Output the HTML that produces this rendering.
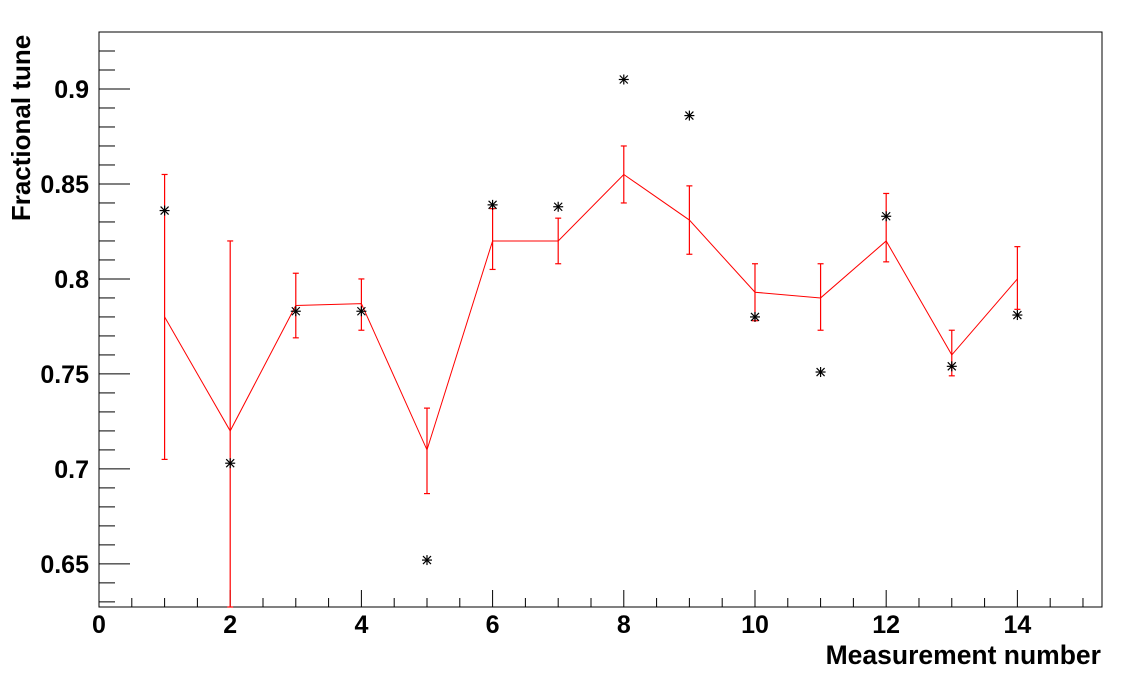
<!DOCTYPE html>
<html><head><meta charset="utf-8"><style>
body{margin:0;background:#fff;}
svg text{font-family:"Liberation Sans",Arial,sans-serif;font-weight:bold;fill:#000;}
</style></head><body>
<svg id="chart" width="1125" height="680" xmlns="http://www.w3.org/2000/svg">
<rect x="0" y="0" width="1125" height="680" fill="#fff"/>
<g id="axes"></g>
<g id="series"></g>
<text x="1101" y="664" font-size="26.5" text-anchor="end">Measurement number</text>
<text transform="translate(30,128) rotate(-90)" font-size="26" text-anchor="middle">Fractional tune</text>
</svg>
<script>
const measurements=[1,2,3,4,5,6,7,8,9,10,11,12,13,14];
const fitValues=[0.780,0.720,0.786,0.787,0.710,0.820,0.820,0.855,0.831,0.793,0.790,0.820,0.760,0.800];
const errLow=[0.705,0.620,0.769,0.773,0.687,0.805,0.808,0.840,0.813,0.778,0.773,0.809,0.749,0.784];
const errHigh=[0.855,0.820,0.803,0.800,0.732,0.837,0.832,0.870,0.849,0.808,0.808,0.845,0.773,0.817];
const starValues=[0.836,0.703,0.783,0.783,0.652,0.839,0.838,0.905,0.886,0.780,0.751,0.833,0.754,0.781];
const xTickLabels=[0,2,4,6,8,10,12,14];
const yTickLabels=[0.65,0.7,0.75,0.8,0.85,0.9];

const L=99,R=1102,T=32,B=607;
const xMin=0,xMax=15.29,yMin=0.6273,yMax=0.930;
const X=v=>L+(v-xMin)/(xMax-xMin)*(R-L);
const Y=v=>B-(v-yMin)/(yMax-yMin)*(B-T);
const NS="http://www.w3.org/2000/svg";
function mk(tag,attrs,parent){const e=document.createElementNS(NS,tag);for(const k in attrs)e.setAttribute(k,attrs[k]);parent.appendChild(e);return e;}
const ax=document.getElementById('axes'),se=document.getElementById('series');
const frame=mk('rect',{x:L,y:T,width:R-L,height:B-T,fill:'none',stroke:'#000','stroke-width':1},ax);


for(let v=0;v<=xMax+1e-9;v+=0.5){
  const maj=Math.abs(v-Math.round(v/2)*2)<1e-9;
  const t=mk('line',{x1:X(v),x2:X(v),y1:B,y2:B-(maj?17:9),stroke:'#000','stroke-width':1},ax);
  
  
}
xTickLabels.forEach(v=>{
  const t=mk('text',{x:X(v),y:B+26,'font-size':25,'text-anchor':'middle'},ax);t.textContent=v;
  
  
});
for(let i=63;i<=93;i++){
  const v=i/100;if(v<yMin||v>yMax)continue;
  const maj=i%5===0;
  const t=mk('line',{x1:L,x2:L+(maj?31:16),y1:Y(v),y2:Y(v),stroke:'#000','stroke-width':1},ax);
  
  
}
yTickLabels.forEach(v=>{
  const t=mk('text',{x:L-10,y:Y(v)+9,'font-size':25,'text-anchor':'end'},ax);t.textContent=String(v);
  
  
});
const line=mk('polyline',{points:measurements.map((m,i)=>X(m)+','+Y(fitValues[i])).join(' '),fill:'none',stroke:'#f00','stroke-width':1},se);


measurements.forEach((m,i)=>{
  const x=X(m),y1=Y(Math.max(errLow[i],yMin)),y2=Y(errHigh[i]);
  const g=mk('g',{stroke:'#f00','stroke-width':1.2},se);
  
  
  mk('line',{x1:x,x2:x,y1:y1,y2:y2},g);
  mk('line',{x1:x-3,x2:x+3,y1:y2,y2:y2},g);
  mk('line',{x1:x-3,x2:x+3,y1:y1,y2:y1},g);
  const sx=x,sy=Y(starValues[i]);
  const s=mk('g',{stroke:'#000','stroke-width':1.2},se);
  
  
  mk('line',{x1:sx-5,x2:sx+5,y1:sy,y2:sy},s);
  mk('line',{x1:sx,x2:sx,y1:sy-5,y2:sy+5},s);
  mk('line',{x1:sx-4,x2:sx+4,y1:sy-4,y2:sy+4},s);
  mk('line',{x1:sx-4,x2:sx+4,y1:sy+4,y2:sy-4},s);
});
</script>
</body></html>
